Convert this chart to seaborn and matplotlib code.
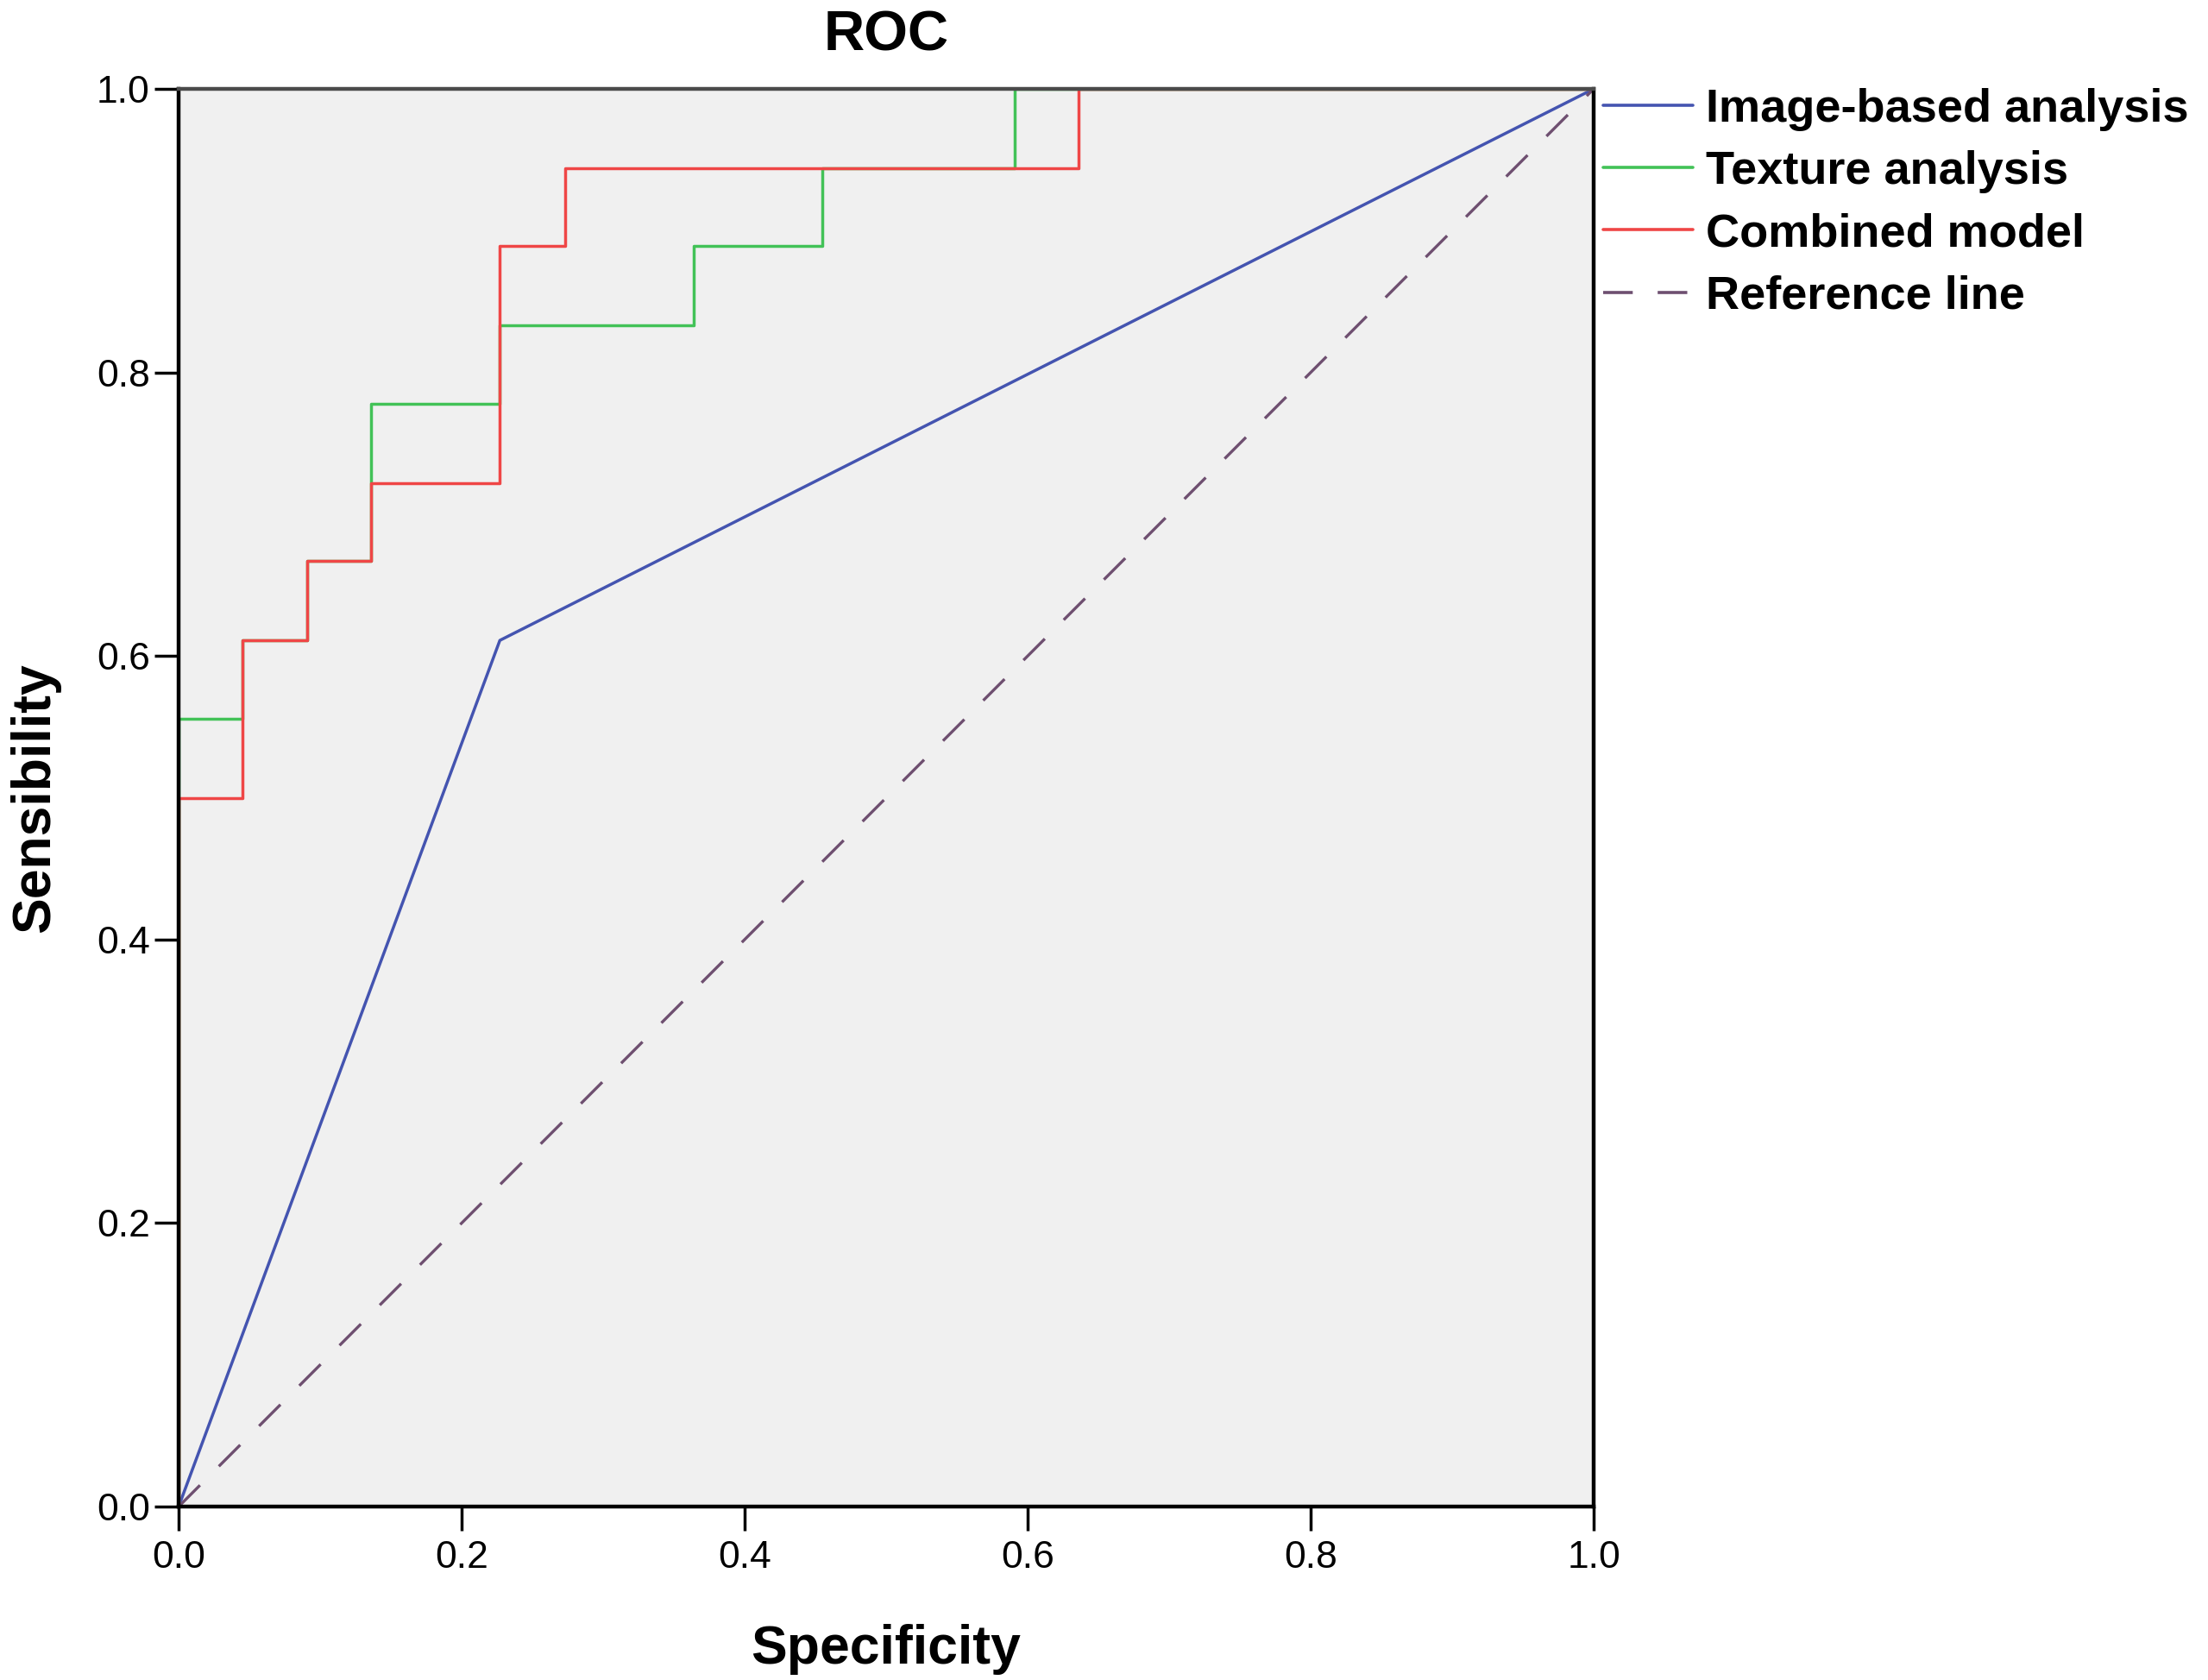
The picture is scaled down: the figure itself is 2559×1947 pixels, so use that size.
import numpy as np
import pandas as pd
import matplotlib
matplotlib.use("Agg")
import matplotlib.pyplot as plt
import seaborn as sns

# ---- data (ROC vertices) ----
image_fpr = [0.0, 0.227, 1.0]
image_tpr = [0.0, 0.611, 1.0]

texture_fpr = [0.0, 0.0, 0.045, 0.045, 0.091, 0.091, 0.136, 0.136, 0.227, 0.227,
               0.364, 0.364, 0.455, 0.455, 0.591, 0.591, 1.0]
texture_tpr = [0.0, 0.556, 0.556, 0.611, 0.611, 0.667, 0.667, 0.778, 0.778, 0.833,
               0.833, 0.889, 0.889, 0.944, 0.944, 1.0, 1.0]

combined_fpr = [0.0, 0.0, 0.045, 0.045, 0.091, 0.091, 0.136, 0.136, 0.227, 0.227,
                0.273, 0.273, 0.636, 0.636, 1.0]
combined_tpr = [0.0, 0.5, 0.5, 0.611, 0.611, 0.667, 0.667, 0.722, 0.722, 0.889,
                0.889, 0.944, 0.944, 1.0, 1.0]

ref_x = [0.0, 1.0]
ref_y = [0.0, 1.0]

series_names = ["Image-based analysis", "Texture analysis", "Combined model", "Reference line"]
colors = ["#4454b0", "#42c257", "#ef4646", "#6e4f70"]
tick_vals = [0.0, 0.2, 0.4, 0.6, 0.8, 1.0]
tick_labels = ["0.0", "0.2", "0.4", "0.6", "0.8", "1.0"]

sns.set_theme(style="white")
plt.rcParams["font.family"] = ["Liberation Sans", "DejaVu Sans"]
plt.rcParams["text.color"] = "black"
plt.rcParams["axes.labelcolor"] = "black"

fig = plt.figure(figsize=(25.59, 19.47), dpi=100)
ax = fig.add_axes([0.0809, 0.1032, 0.6409, 0.8439])
ax.set_facecolor("#f0f0f0")

dfs = [
    pd.DataFrame({"x": image_fpr, "y": image_tpr}),
    pd.DataFrame({"x": texture_fpr, "y": texture_tpr}),
    pd.DataFrame({"x": combined_fpr, "y": combined_tpr}),
]
for df, name, c in zip(dfs, series_names[:3], colors[:3]):
    sns.lineplot(data=df, x="x", y="y", sort=False, estimator=None, ax=ax,
                 color=c, linewidth=2.5, label=name, zorder=2)
sns.lineplot(x=ref_x, y=ref_y, sort=False, estimator=None, ax=ax,
             color=colors[3], linewidth=2.4, label=series_names[3],
             dashes=False, zorder=2)
ax.lines[-1].set_dashes((10.5, 9.3))

ax.set_xlim(0, 1)
ax.set_ylim(0, 1)
ax.set_xticks(tick_vals)
ax.set_xticklabels(tick_labels)
ax.set_yticks(tick_vals)
ax.set_yticklabels(tick_labels)
ax.tick_params(axis="both", which="major", direction="out", length=20,
               width=2.5, color="black", labelsize=32, labelcolor="black",
               bottom=True, left=True)
ax.tick_params(axis="x", pad=8)
ax.tick_params(axis="y", pad=4)

for side in ["left", "bottom", "right"]:
    ax.spines[side].set_color("black")
    ax.spines[side].set_linewidth(3.2)
    ax.spines[side].set_zorder(3)
ax.spines["top"].set_color("#4a4a4a")
ax.spines["top"].set_linewidth(3.2)
ax.spines["top"].set_zorder(3)

ax.set_title("ROC", fontsize=47, fontweight="bold", pad=32, color="black")
ax.set_xlabel("Specificity", fontsize=45, fontweight="bold", labelpad=40)
ax.set_ylabel("Sensibility", fontsize=45, fontweight="bold", labelpad=30)

leg = ax.legend(loc="upper left", bbox_to_anchor=(1.0, 1.0073), frameon=False,
                fontsize=39, handlelength=1.92, handletextpad=0.28,
                labelspacing=0.41, borderaxespad=0.0, borderpad=0.2)
for t in leg.get_texts():
    t.set_fontweight("bold")
    t.set_color("black")
for h in leg.get_lines():
    h.set_linewidth(2.6)
leg.get_lines()[-1].set_dashes((9.5, 8.0))

fig.savefig("out.png", dpi=100, facecolor="white")
